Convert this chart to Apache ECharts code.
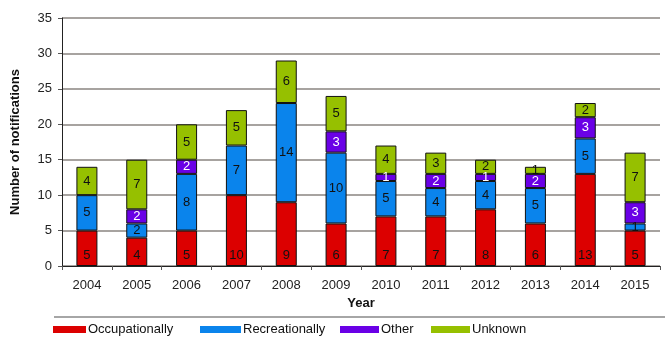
<!DOCTYPE html>
<html><head><meta charset="utf-8">
<script src="https://cdn.jsdelivr.net/npm/echarts@6/dist/echarts.min.js"></script>
<style>html,body{margin:0;padding:0;background:#fff}#c{width:665px;height:338px}</style>
</head><body><div id="c"></div>
<script>
const years = ['2004','2005','2006','2007','2008','2009','2010','2011','2012','2013','2014','2015'];
const occupationally = [5,4,5,10,9,6,7,7,8,6,13,5];
const recreationally = [5,2,8,7,14,10,5,4,4,5,5,1];
const other = [0,2,2,0,0,3,1,2,1,2,3,3];
const unknown = [4,7,5,5,6,5,4,3,2,1,2,7];
const seriesNames = ['Occupationally','Recreationally','Other','Unknown'];
const colors = ['#dc0000','#0a84ec','#6a00e6','#96c000'];
const labelColors = ['#111','#111','#fff','#111'];
const allData = [occupationally, recreationally, other, unknown];

const chart = echarts.init(document.getElementById('c'));
const font = 'Liberation Sans, Arial, sans-serif';
const series = allData.map((d, i) => ({
  name: seriesNames[i], type: 'bar', stack: 'total', barWidth: 21,
  data: d.map(v => v === 0 ? null : v),
  itemStyle: {color: colors[i], borderColor: '#111', borderWidth: 1},
  label: {show: true, position: i === 0 ? 'insideBottom' : 'inside', distance: 4,
    color: labelColors[i], fontFamily: font, fontSize: 13,
    formatter: p => p.value ? String(p.value) : ''},
  emphasis: {disabled: true}
}));
const legendX = [53, 200, 340, 431];
const legendW = [33, 41, 39, 39];
const legends = seriesNames.map((n, i) => ({
  data: [n], left: legendX[i], top: 323, padding: 0, itemWidth: legendW[i], itemHeight: 7, itemGap: 4,
  icon: 'rect', itemStyle: {borderWidth: 0},
  textStyle: {fontFamily: font, fontSize: 13, color: '#111', padding: [0,0,0,-3]}
}));
chart.setOption({
  animation: false,
  grid: {left: 62, right: 5, top: 18, bottom: 72},
  legend: legends,
  graphic: [{type: 'line', shape: {x1: 54, y1: 317, x2: 665, y2: 317}, style: {stroke: '#888', lineWidth: 1.5}}],
  xAxis: {type: 'category', data: years, name: 'Year', nameLocation: 'middle', nameGap: 31,
    nameTextStyle: {fontFamily: font, fontSize: 13, fontWeight: 'bold', color: '#111'},
    axisLine: {lineStyle: {color: '#222', width: 1}},
    axisTick: {show: true, alignWithLabel: false, length: 4, lineStyle: {color: '#555'}},
    axisLabel: {fontFamily: font, fontSize: 13, color: '#222', margin: 13}},
  yAxis: {type: 'value', min: 0, max: 35, interval: 5, name: 'Number of notifications',
    nameLocation: 'middle', nameGap: 40,
    nameTextStyle: {fontFamily: font, fontSize: 13, fontWeight: 'bold', color: '#111'},
    axisLine: {show: true, lineStyle: {color: '#222', width: 1}},
    axisTick: {show: true, length: 4, lineStyle: {color: '#555'}},
    axisLabel: {fontFamily: font, fontSize: 13, color: '#222', margin: 10},
    splitLine: {lineStyle: {color: '#8a8580', width: 1.5}}},
  series: series
});
</script></body></html>
